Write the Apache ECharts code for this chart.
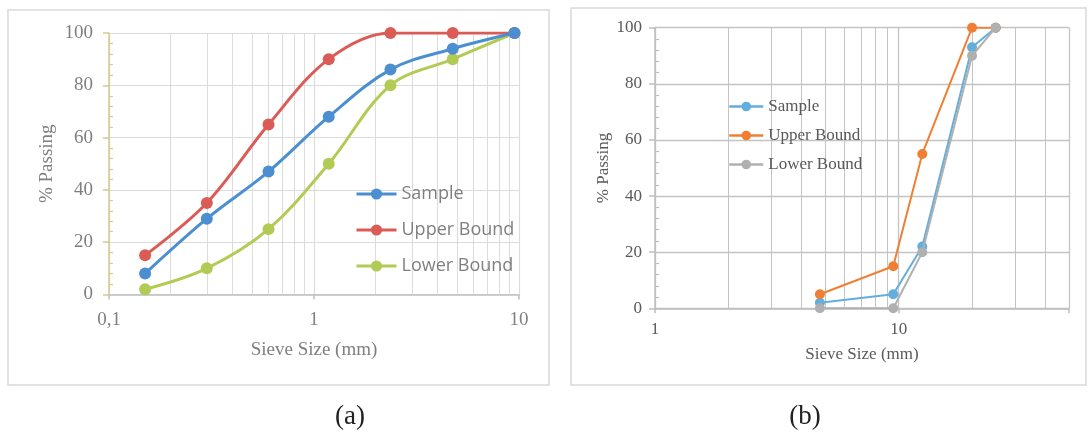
<!DOCTYPE html>
<html>
<head>
<meta charset="utf-8">
<script src="https://cdn.jsdelivr.net/npm/echarts@6/dist/echarts.min.js"></script>
<style>html,body{margin:0;padding:0;background:#fff;}#c{width:1089px;height:434px;}</style>
</head>
<body>
<div id="c"></div>
<script>
// ---- data (a) ----
const sieveA = [0.15, 0.3, 0.6, 1.18, 2.36, 4.75, 9.5];
const sampleA = [8, 29, 47, 68, 86, 94, 100];
const upperA = [15, 35, 65, 90, 100, 100, 100];
const lowerA = [2, 10, 25, 50, 80, 90, 100];
const minorGridA = [0.2, 0.3, 0.4, 0.5, 0.6, 0.7, 0.8, 0.9, 2, 3, 4, 5, 6, 7, 8, 9];
// ---- data (b) ----
const sieveB = [4.75, 9.5, 12.5, 20, 25];
const sampleB = [2, 5, 22, 93, 100];
const upperB = [5, 15, 55, 100, 100];
const lowerB = [0, 0, 20, 90, 100];
const minorGridB = [2, 3, 4, 5, 6, 7, 8, 9, 20, 30, 40, 50];
const seriesNames = ['Sample', 'Upper Bound', 'Lower Bound'];
const captions = ['(a)', '(b)'];

const pairs = (xs, ys) => xs.map((x, i) => [x, ys[i]]);
const chart = echarts.init(document.getElementById('c'));

const colA = ['#4b8fd0', '#db5b57', '#b2cb55'];
const colB = ['#63aedc', '#f07f33', '#b0b0b0'];
const serif = 'Liberation Serif';

function gridMarks(vals, color) {
  return {
    silent: true, symbol: 'none', z: 0, animation: false,
    label: { show: false },
    lineStyle: { type: 'solid', color: color, width: 1 },
    data: vals.map(v => ({ xAxis: v }))
  };
}

const option = {
  animation: false,
  title: [
    { text: captions[0], left: 345, top: 398, textAlign: 'center',
      textStyle: { fontFamily: serif, fontSize: 27, fontWeight: 'normal', color: '#222' } },
    { text: captions[1], left: 800, top: 398, textAlign: 'center',
      textStyle: { fontFamily: serif, fontSize: 27, fontWeight: 'normal', color: '#222' } }
  ],
  graphic: [
    { type: 'rect', shape: { x: 8, y: 10, width: 541, height: 375 },
      style: { fill: 'none', stroke: '#d9d9d9', lineWidth: 1.5 }, z: -1 },
    { type: 'rect', shape: { x: 571, y: 8, width: 515, height: 377 },
      style: { fill: 'none', stroke: '#d9d9d9', lineWidth: 1.5 }, z: -1 }
  ],
  legend: [
    { data: seriesNames.map(n => n + ' '), orient: 'vertical', left: 350, top: 180, itemGap: 18,
      itemWidth: 40, itemHeight: 14, lineStyle: { width: 3 },
      textStyle: { fontFamily: 'Open Sans', fontSize: 18, color: '#7f7f7f' } },
    { data: seriesNames, orient: 'vertical', left: 723, top: 93, itemGap: 12,
      itemWidth: 34, itemHeight: 12, lineStyle: { width: 2.5 },
      textStyle: { fontFamily: serif, fontSize: 17, color: '#595959' } }
  ],
  grid: [
    { left: 109, top: 33, width: 410, height: 261.5 },
    { left: 655, top: 27.7, width: 414, height: 280.6 }
  ],
  xAxis: [
    { type: 'log', gridIndex: 0, min: 0.1, max: 10, logBase: 10,
      name: 'Sieve Size (mm)', nameLocation: 'middle', nameGap: 46,
      nameTextStyle: { fontFamily: serif, fontSize: 19, color: '#7f7f7f' },
      axisLine: { lineStyle: { color: '#bfbfbf', width: 1.5 } },
      axisTick: { show: true, length: 5, lineStyle: { color: '#bfbfbf', width: 1.5 } },
      axisLabel: { fontFamily: serif, fontSize: 19, color: '#7f7f7f', margin: 16,
        formatter: v => String(v).replace('.', ',') },
      splitLine: { show: true, lineStyle: { color: '#dcdcdc', width: 1.2 } } },
    { type: 'log', gridIndex: 1, min: 1, max: 50, logBase: 10,
      name: 'Sieve Size (mm)', nameLocation: 'middle', nameGap: 38,
      nameTextStyle: { fontFamily: serif, fontSize: 17, color: '#595959' },
      axisLine: { lineStyle: { color: '#bfbfbf', width: 1.5 } },
      axisTick: { show: true, length: 5, lineStyle: { color: '#bfbfbf', width: 1.5 } },
      axisLabel: { fontFamily: serif, fontSize: 17, color: '#595959', margin: 13,
        formatter: v => (v === 1 || v === 10) ? String(v) : '' },
      splitLine: { show: true, lineStyle: { color: '#c4c4c4', width: 1.3 } } }
  ],
  yAxis: [
    { type: 'value', gridIndex: 0, min: 0, max: 100, interval: 20,
      name: '% Passing', nameLocation: 'middle', nameGap: 52, nameRotate: 90,
      nameTextStyle: { fontFamily: serif, fontSize: 19, color: '#7f7f7f' },
      axisLine: { show: true, lineStyle: { color: '#d9c98e', width: 1.5 } },
      axisTick: { show: true, length: 6, lineStyle: { color: '#d9c98e', width: 1.5 } },
      axisLabel: { fontFamily: serif, fontSize: 19, color: '#7f7f7f', margin: 16 },
      splitLine: { show: true, lineStyle: { color: '#dcdcdc', width: 1.2 } } },
    { type: 'value', gridIndex: 0, min: 0, max: 100, interval: 20, position: 'left',
      axisLine: { show: false }, axisLabel: { show: false }, splitLine: { show: false },
      axisTick: { show: false, inside: true },
      minorTick: { show: true, splitNumber: 5, length: 4, lineStyle: { color: '#d9c98e', width: 1.2 } } },
    { type: 'value', gridIndex: 1, min: 0, max: 100, interval: 20,
      name: '% Passing', nameLocation: 'middle', nameGap: 43, nameRotate: 90,
      nameTextStyle: { fontFamily: serif, fontSize: 17, color: '#595959' },
      axisLine: { show: true, lineStyle: { color: '#bfbfbf', width: 1.5 } },
      axisTick: { show: true, length: 6, lineStyle: { color: '#bfbfbf', width: 1.5 } },
      axisLabel: { fontFamily: serif, fontSize: 17, color: '#595959', margin: 13 },
      splitLine: { show: true, lineStyle: { color: '#c4c4c4', width: 1.3 } } },
    { type: 'value', gridIndex: 1, min: 0, max: 100, interval: 20, position: 'left',
      axisLine: { show: false }, axisLabel: { show: false }, splitLine: { show: false },
      axisTick: { show: false, inside: true },
      minorTick: { show: true, splitNumber: 5, length: 4, lineStyle: { color: '#bfbfbf', width: 1.2 } } }
  ],
  series: [
    { type: 'line', xAxisIndex: 0, yAxisIndex: 0, data: [], silent: true,
      markLine: gridMarks(minorGridA, '#dcdcdc'), z: 0 },
    { type: 'line', xAxisIndex: 1, yAxisIndex: 2, data: [], silent: true,
      markLine: gridMarks(minorGridB, '#c4c4c4'), z: 0 },
    ...[sampleA, upperA, lowerA].map((d, i) => ({
      name: seriesNames[i] + ' ', type: 'line', xAxisIndex: 0, yAxisIndex: 0,
      data: pairs(sieveA, d), smooth: 0.35, symbol: 'circle', symbolSize: 12,
      color: colA[i], lineStyle: { width: 3 }, z: 3 + (2 - i)
    })),
    ...[sampleB, upperB, lowerB].map((d, i) => ({
      name: seriesNames[i], type: 'line', xAxisIndex: 1, yAxisIndex: 2,
      data: pairs(sieveB, d), symbol: 'circle', symbolSize: 10,
      color: colB[i], lineStyle: { width: 2 }, z: 3 + i
    }))
  ]
};
chart.setOption(option);
</script>
</body>
</html>
